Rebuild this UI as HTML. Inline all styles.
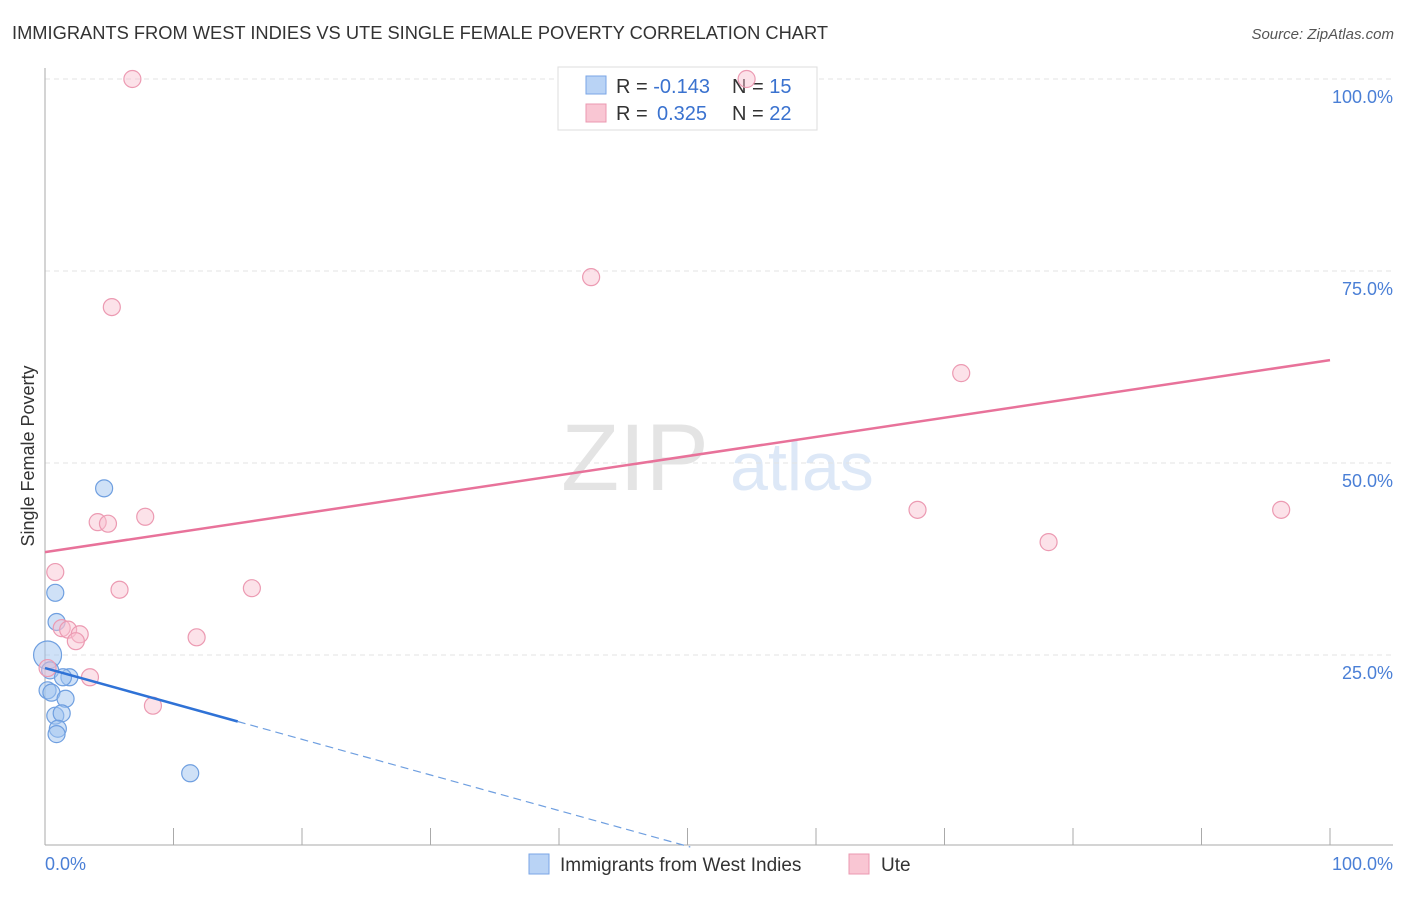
<!DOCTYPE html>
<html><head><meta charset="utf-8"><style>
body{margin:0;background:#fff;font-family:"Liberation Sans",sans-serif}
svg text{font-family:"Liberation Sans",sans-serif}
</style></head><body>
<svg id="chart" width="1406" height="892">
<text x="12" y="39" font-size="18.3" fill="#333">IMMIGRANTS FROM WEST INDIES VS UTE SINGLE FEMALE POVERTY CORRELATION CHART</text>
<text x="1394" y="39" font-size="15" fill="#555" font-style="italic" text-anchor="end">Source: ZipAtlas.com</text>
<text x="635" y="490" font-size="95" fill="#e4e4e4" font-family="Liberation Serif" text-anchor="middle">ZIP</text>
<text x="802" y="490" font-size="68" fill="#dde8f7" text-anchor="middle">atlas</text>
<text transform="translate(34,456) rotate(-90)" font-size="18" fill="#333" text-anchor="middle">Single Female Poverty</text>
<g id="grid"></g>
<g>
<rect x="558" y="67" width="259" height="63" fill="#fff" stroke="#ddd"/>
<rect x="586" y="76" width="20" height="18" fill="#b9d3f5" stroke="#7aa6e6"/>
<rect x="586" y="104" width="20" height="18" fill="#f9c6d3" stroke="#eb98b0"/>
<text x="616" y="93" font-size="20" fill="#333">R = <tspan fill="#3a72cf">-0.143</tspan>  <tspan x="732">N = </tspan><tspan fill="#3a72cf">15</tspan></text>
<text x="616" y="120" font-size="20" fill="#333">R = <tspan fill="#3a72cf" x="657">0.325</tspan><tspan x="732">N = </tspan><tspan fill="#3a72cf">22</tspan></text>
</g>
<g id="marks"></g>
<g>
<rect x="529" y="854" width="20" height="20" fill="#b9d3f5" stroke="#7aa6e6"/>
<text x="560" y="871" font-size="19" fill="#333">Immigrants from West Indies</text>
<rect x="849" y="854" width="20" height="20" fill="#f9c6d3" stroke="#eb98b0"/>
<text x="881" y="871" font-size="19" fill="#333">Ute</text>
</g>
<text x="45" y="870" font-size="18" fill="#4a7fd6">0.0%</text>
<text x="1393" y="870" font-size="18" fill="#4a7fd6" text-anchor="end">100.0%</text>
</svg>
<script>
const yTicks=[100,75,50,25];
const yTickLabels=["100.0%","75.0%","50.0%","25.0%"];
const xTicks=[10,20,30,40,50,60,70,80,90,100];
const blueX=[4.6,0.8,0.9,0.2,0.4,1.9,1.4,0.2,0.5,1.6,0.8,1.3,1.0,0.9,11.3];
const blueY=[46.7,33.1,29.3,25.0,23.0,22.1,22.1,20.4,20.1,19.3,17.1,17.4,15.4,14.7,9.6];
const pinkX=[6.8,54.6,42.5,5.2,71.3,7.8,4.1,4.9,67.9,96.2,78.1,0.8,5.8,16.1,1.3,1.8,2.7,2.4,11.8,0.2,3.5,8.4];
const pinkY=[100,100,74.2,70.3,61.7,43.0,42.3,42.1,43.9,43.9,39.7,35.8,33.5,33.7,28.5,28.3,27.7,26.8,27.3,23.3,22.1,18.4];
const pinkTrend=[38.4,63.4];
const blueTrend=[23.3,-0.464];
const NS="http://www.w3.org/2000/svg";
const sx=v=>45+v*12.85, sy=v=>847-v*7.68;
function mk(p,tag,at){const e=document.createElementNS(NS,tag);for(const k in at)e.setAttribute(k,at[k]);p.appendChild(e);return e;}
const g=document.getElementById('grid'), m=document.getElementById('marks');
yTicks.forEach((t,i)=>{
 const l=mk(g,'line',{x1:45,x2:1393,y1:sy(t),y2:sy(t),stroke:'#e3e3e3','stroke-dasharray':'5,4'});
 
 
 const tx=mk(g,'text',{x:1393,y:sy(t)+24,'font-size':18,fill:'#4a7fd6','text-anchor':'end'});
 tx.textContent=yTickLabels[i];
 
 
});
const ya=mk(g,'line',{x1:45,x2:45,y1:68,y2:845,stroke:'#aaa'});


const xa=mk(g,'line',{x1:45,x2:1393,y1:845,y2:845,stroke:'#aaa'});


xTicks.forEach(t=>{const l=mk(g,'line',{x1:sx(t),x2:sx(t),y1:828,y2:845,stroke:'#aaa'});
 
 });
blueX.forEach((x,i)=>{const r=(i==3)?14:8.5;const c=mk(m,'circle',{cx:sx(x),cy:sy(blueY[i]),r:r,fill:'rgba(160,196,240,0.5)',stroke:'#6f9fe0','stroke-width':1.2});
 
 });
pinkX.forEach((x,i)=>{const c=mk(m,'circle',{cx:sx(x),cy:sy(pinkY[i]),r:8.5,fill:'rgba(248,190,206,0.45)',stroke:'#ec9ab2','stroke-width':1.2});
 
 });
const pl=mk(m,'line',{x1:sx(0),y1:sy(pinkTrend[0]),x2:sx(100),y2:sy(pinkTrend[1]),stroke:'#e8729a','stroke-width':2.5});


const xEnd=-blueTrend[0]/blueTrend[1];
const bl=mk(m,'line',{x1:sx(0),y1:sy(blueTrend[0]),x2:sx(15),y2:sy(blueTrend[0]+15*blueTrend[1]),stroke:'#2f72d6','stroke-width':2.5});


const bd=mk(m,'line',{x1:sx(15),y1:sy(blueTrend[0]+15*blueTrend[1]),x2:sx(xEnd),y2:sy(0),stroke:'#6f9fe0','stroke-width':1.2,'stroke-dasharray':'8,5'});


</script>
</body></html>
